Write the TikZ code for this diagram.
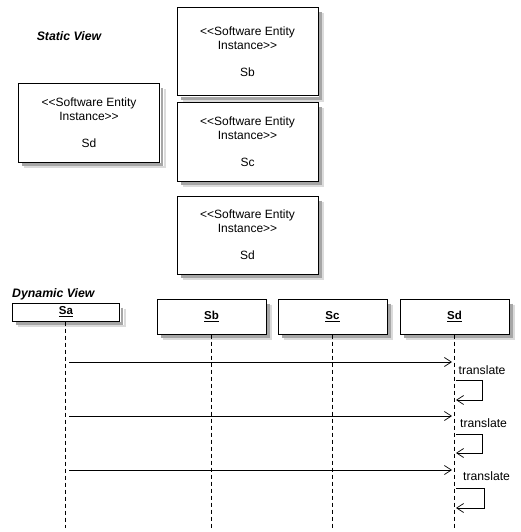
\documentclass[tikz,border=0pt]{standalone}
\usepackage{fontspec}
\setmainfont{Liberation Sans}
\usetikzlibrary{arrows.meta}
\begin{document}
\begin{tikzpicture}[x=1pt,y=-1pt,
  box/.style={draw=black, line width=1pt, fill=white, rectangle, inner sep=0pt},
  ent/.style={box, minimum width=141pt, minimum height=78pt, align=center, font=\fontsize{12}{14}\selectfont},
  obj/.style={box, minimum width=109pt, minimum height=35pt, font=\fontsize{11.5}{13}\selectfont\bfseries},
  shad/.style={draw=black!35, line width=2.5pt, line cap=butt},
  shadb/.style={draw=black!14, line width=2pt, line cap=butt},
  life/.style={line width=0.6pt, dash pattern=on 4pt off 3pt},
  msg/.style={line width=0.7pt, -{Straight Barb[length=7pt,width=9pt]}},
  lbl/.style={font=\fontsize{12.2}{13}\selectfont, anchor=west, inner sep=0pt},
  title/.style={font=\fontsize{12.3}{13}\selectfont\bfseries\itshape, inner sep=0pt}]
\useasboundingbox (0,0) rectangle (520,532);
% static view
\node[title] (st) at (69,36) {Static View};
\node[ent, minimum height=88pt] (sb) at (247.5,52) {{<}{<}Software Entity\\Instance{>}{>}\\[13pt]Sb};
\node[ent] (sc) at (247.5,142) {{<}{<}Software Entity\\Instance{>}{>}\\[13pt]Sc};
\node[ent] (sd2) at (247.5,235) {{<}{<}Software Entity\\Instance{>}{>}\\[13pt]Sd};
\node[ent] (sd1) at (89,123) {{<}{<}Software Entity\\Instance{>}{>}\\[13pt]Sd};
% dynamic view
\node[title, anchor=west] (dv) at (12,294) {Dynamic View};
\node[obj, minimum width=107pt, minimum height=18pt] (sa) at (66,312) {\underline{Sa}};
\node[obj] (ob) at (211.5,316.5) {\underline{Sb}};
\node[obj] (oc) at (332.5,316.5) {\underline{Sc}};
\node[obj] (od) at (454.5,316.5) {\underline{Sd}};
% shadows: grey strokes along the right and bottom edges of each box
\foreach \n in {sb,sc,sd2,sd1,sa,ob,oc,od}{
  \draw[shadb] ([shift={(4.5,6)}]\n.north east) -- ([shift={(4.5,4.5)}]\n.south east) -- ([shift={(6,4.5)}]\n.south west);
  \draw[shad] ([shift={(1.8,5)}]\n.north east) -- ([shift={(1.8,1.8)}]\n.south east) -- ([shift={(4,1.8)}]\n.south west);
}
\coordinate (ea) at (65,528);
\coordinate (eb) at (211.5,528);
\coordinate (ec) at (332.5,528);
\coordinate (ed) at (454.5,528);
\draw[life] (sa.south -| ea) -- (ea);
\draw[life] (ob.south) -- (eb);
\draw[life] (oc.south) -- (ec);
\draw[life] (od.south) -- (ed);
% messages
\foreach \y/\ly/\lt/\lb/\rx/\lx [count=\i] in {362/370/380/400/482/458.5, 416/423/434/453/482/460, 470/476/488/508/484/463}{
  \coordinate (a\i) at (69,\y);
  \coordinate (d\i) at (452,\y);
  \draw[msg] (a\i) -- (d\i);
  \node[lbl] (t\i) at (\lx,\ly) {translate};
  \coordinate (ls\i) at (455.5,\lt);
  \coordinate (le\i) at (456,\lb);
  \draw[msg] (ls\i) -- (\rx,\lt) -- (\rx,\lb) -- (le\i);
}
\end{tikzpicture}
\end{document}
